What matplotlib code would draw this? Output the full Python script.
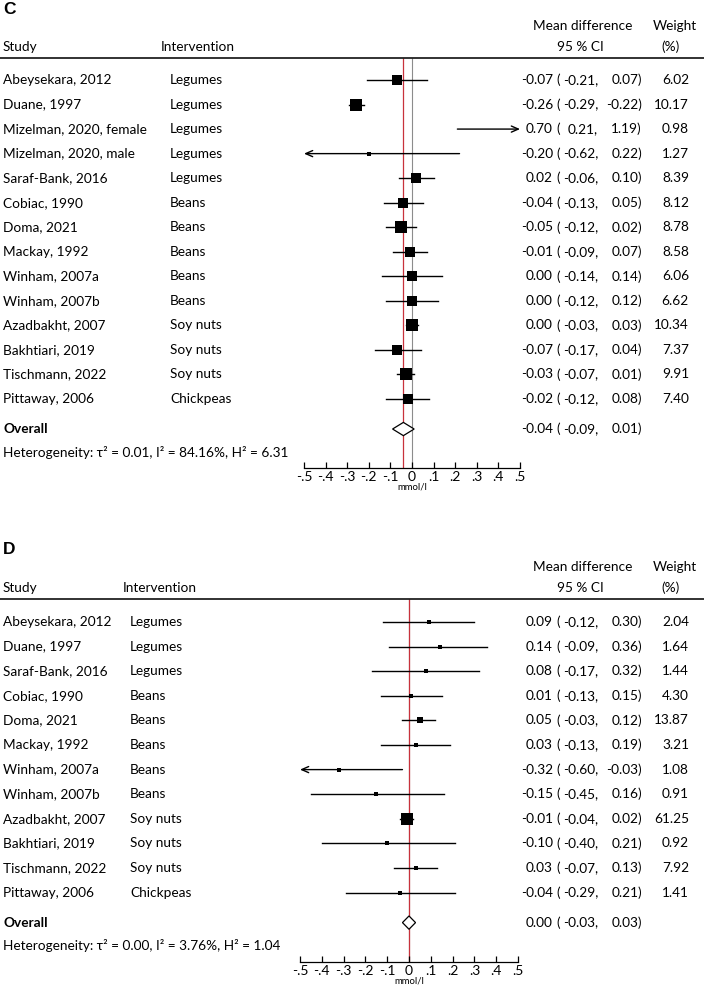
import numpy as np
import matplotlib
matplotlib.use('Agg')
import matplotlib.pyplot as plt
import matplotlib.transforms as mtransforms
from matplotlib.patches import Polygon

plt.rcParams['font.family'] = ['Lato', 'DejaVu Sans']
FS = 9.8

# ---- panel C data ----
c_study = ['Abeysekara, 2012', 'Duane, 1997', 'Mizelman, 2020, female', 'Mizelman, 2020, male',
           'Saraf-Bank, 2016', 'Cobiac, 1990', 'Doma, 2021', 'Mackay, 1992', 'Winham, 2007a',
           'Winham, 2007b', 'Azadbakht, 2007', 'Bakhtiari, 2019', 'Tischmann, 2022', 'Pittaway, 2006']
c_interv = ['Legumes', 'Legumes', 'Legumes', 'Legumes', 'Legumes', 'Beans', 'Beans', 'Beans',
            'Beans', 'Beans', 'Soy nuts', 'Soy nuts', 'Soy nuts', 'Chickpeas']
c_est = [-0.07, -0.26, 0.70, -0.20, 0.02, -0.04, -0.05, -0.01, 0.00, 0.00, 0.00, -0.07, -0.03, -0.02]
c_lo = [-0.21, -0.29, 0.21, -0.62, -0.06, -0.13, -0.12, -0.09, -0.14, -0.12, -0.03, -0.17, -0.07, -0.12]
c_hi = [0.07, -0.22, 1.19, 0.22, 0.10, 0.05, 0.02, 0.07, 0.14, 0.12, 0.03, 0.04, 0.01, 0.08]
c_wt = [6.02, 10.17, 0.98, 1.27, 8.39, 8.12, 8.78, 8.58, 6.06, 6.62, 10.34, 7.37, 9.91, 7.40]
c_overall = (-0.04, -0.09, 0.01)
c_het = 'Heterogeneity: τ² = 0.01, I² = 84.16%, H² = 6.31'

# ---- panel D data ----
d_study = ['Abeysekara, 2012', 'Duane, 1997', 'Saraf-Bank, 2016', 'Cobiac, 1990', 'Doma, 2021',
           'Mackay, 1992', 'Winham, 2007a', 'Winham, 2007b', 'Azadbakht, 2007', 'Bakhtiari, 2019',
           'Tischmann, 2022', 'Pittaway, 2006']
d_interv = ['Legumes', 'Legumes', 'Legumes', 'Beans', 'Beans', 'Beans', 'Beans', 'Beans',
            'Soy nuts', 'Soy nuts', 'Soy nuts', 'Chickpeas']
d_est = [0.09, 0.14, 0.08, 0.01, 0.05, 0.03, -0.32, -0.15, -0.01, -0.10, 0.03, -0.04]
d_lo = [-0.12, -0.09, -0.17, -0.13, -0.03, -0.13, -0.60, -0.45, -0.04, -0.40, -0.07, -0.29]
d_hi = [0.30, 0.36, 0.32, 0.15, 0.12, 0.19, -0.03, 0.16, 0.02, 0.21, 0.13, 0.21]
d_wt = [2.04, 1.64, 1.44, 4.30, 13.87, 3.21, 1.08, 0.91, 61.25, 0.92, 7.92, 1.41]
d_overall = (0.00, -0.03, 0.03)
d_het = 'Heterogeneity: τ² = 0.00, I² = 3.76%, H² = 1.04'

ticks = np.arange(-0.5, 0.51, 0.1)
tick_lbls = ['-.5', '-.4', '-.3', '-.2', '-.1', '0', '.1', '.2', '.3', '.4', '.5']

W, H = 704, 994
fig = plt.figure(figsize=(W / 100, H / 100), dpi=100)
fig.patch.set_facecolor('white')


def fy(py):
    return 1 - py / H


def forest(letter, study, interv, est, lo, hi, wt, overall, het,
           top, row0, step, axis_y, xl, xr, interv_hx, interv_x, wmax, side_max):
    n = len(study)
    ov_y = (n - 1) + 30 / step
    ylo = (top - row0) / step
    yhi = (axis_y - row0) / step
    ax = fig.add_axes([xl / W, fy(axis_y), (xr - xl) / W, (axis_y - top) / H])
    ax.set_xlim(-0.5, 0.5)
    ax.set_ylim(yhi, ylo)
    for s in ['top', 'left', 'right']:
        ax.spines[s].set_visible(False)
    ax.spines['bottom'].set_linewidth(0.9)
    ax.set_yticks([])
    ax.set_xticks(ticks)
    ax.set_xticklabels(tick_lbls, fontsize=10)
    ax.tick_params(axis='x', direction='in', length=4.5, width=0.9, pad=2)
    ax.set_xlabel('mmol/l', fontsize=6.8, labelpad=0)
    ax.patch.set_alpha(0)

    ax.axvline(0, color='#8c8c8c', lw=0.8, zorder=1)
    ax.axvline(overall[0], color='#c8323c', lw=0.9, zorder=1)

    for i in range(n):
        l, h = max(lo[i], -0.5), min(hi[i], 0.5)
        if lo[i] < -0.5 or hi[i] > 0.5:
            start = l if hi[i] > 0.5 else h
            end = h if hi[i] > 0.5 else l
            ax.annotate('', xy=(end, i), xytext=(start, i),
                        arrowprops=dict(arrowstyle='->,head_length=0.5,head_width=0.22',
                                        lw=1.0, color='black', shrinkA=0, shrinkB=0))
        else:
            ax.plot([l, h], [i, i], color='black', lw=1.0, zorder=2)
        if -0.5 <= est[i] <= 0.5:
            side = max(3.4, side_max * np.sqrt(wt[i] / wmax))
            ax.plot(est[i], i, 's', color='black', ms=side * 0.72, mew=0, zorder=3)

    e, dl, dh = overall
    dia = Polygon([[dl, ov_y], [e, ov_y - 0.27], [dh, ov_y], [e, ov_y + 0.27]],
                  closed=True, facecolor='white', edgecolor='black', lw=0.9, zorder=4)
    ax.add_patch(dia)

    tr = mtransforms.blended_transform_factory(
        mtransforms.Affine2D().scale(1 / W, 1) + fig.transFigure, ax.transData)

    # header
    fig.text(3 / W, fy(top - 49), letter, fontsize=12.5, fontweight='bold',
             family='Liberation Sans', va='center', ha='left')
    fig.text(583 / W, fy(top - 32), 'Mean difference', fontsize=FS, ha='center', va='center')
    fig.text(675 / W, fy(top - 32), 'Weight', fontsize=FS, ha='center', va='center')
    fig.text(3 / W, fy(top - 11), 'Study', fontsize=FS, ha='left', va='center')
    fig.text(interv_hx / W, fy(top - 11), 'Intervention', fontsize=FS, ha='left', va='center')
    fig.text(580 / W, fy(top - 11), '95 % CI', fontsize=FS, ha='center', va='center')
    fig.text(671 / W, fy(top - 11), '(%)', fontsize=FS, ha='center', va='center')
    fig.add_artist(plt.Line2D([0, 1], [fy(top), fy(top)], color='#222222', lw=1.3,
                              transform=fig.transFigure))

    def ci_text(y, e_, l_, h_):
        ax.text(553, y, f'{e_:.2f}', transform=tr, fontsize=FS, ha='right', va='center')
        ax.text(556, y, '(', transform=tr, fontsize=FS, ha='left', va='center')
        ax.text(598, y, f'{l_:.2f},', transform=tr, fontsize=FS, ha='right', va='center')
        ax.text(642, y, f'{h_:.2f})', transform=tr, fontsize=FS, ha='right', va='center')

    for i in range(n):
        ax.text(3, i, study[i], transform=tr, fontsize=FS, ha='left', va='center')
        ax.text(interv_x, i, interv[i], transform=tr, fontsize=FS, ha='left', va='center')
        ci_text(i, est[i], lo[i], hi[i])
        ax.text(689, i, f'{wt[i]:.2f}', transform=tr, fontsize=FS, ha='right', va='center')

    ax.text(3, ov_y, 'Overall', transform=tr, fontsize=FS, fontweight='bold', ha='left', va='center')
    ci_text(ov_y, e, dl, dh)
    ax.text(3, ov_y + 23 / step, het, transform=tr, fontsize=FS, ha='left', va='center')
    return ax


forest('C', c_study, c_interv, c_est, c_lo, c_hi, c_wt, c_overall, c_het,
       top=58, row0=80, step=24.54, axis_y=468, xl=304, xr=520,
       interv_hx=161, interv_x=170, wmax=10.34, side_max=12)
forest('D', d_study, d_interv, d_est, d_lo, d_hi, d_wt, d_overall, d_het,
       top=599, row0=622, step=24.6, axis_y=962, xl=300, xr=518,
       interv_hx=123, interv_x=130, wmax=61.25, side_max=12)

fig.savefig('out.png', dpi=100, facecolor='white')
